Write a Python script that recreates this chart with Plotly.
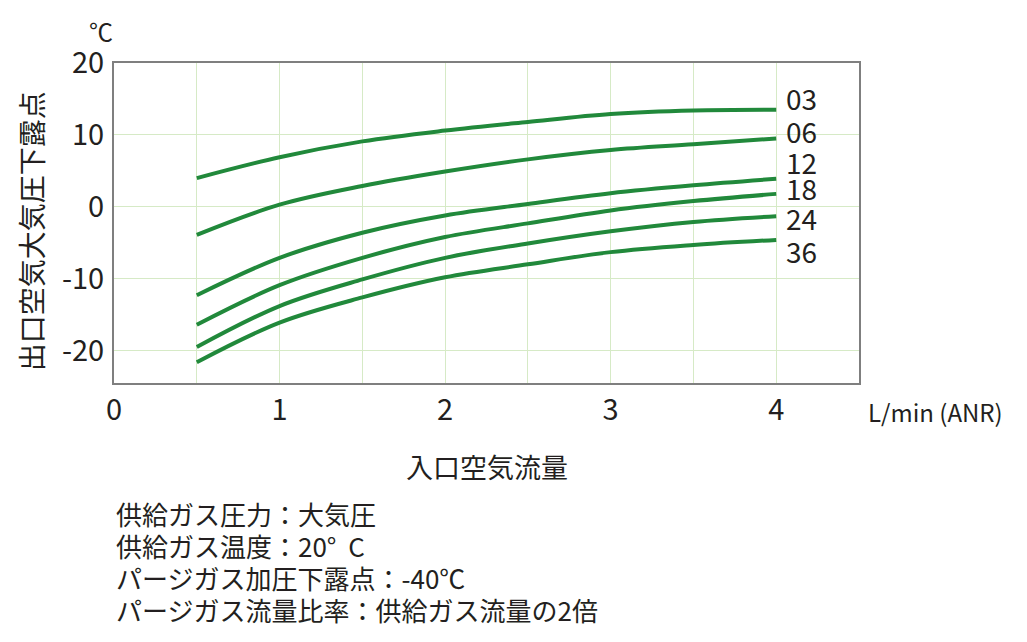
import plotly.graph_objects as go

# inlet air flow (L/min ANR)
flow = [0.5, 1.0, 1.5, 2.0, 2.5, 3.0, 3.5, 4.0]

# outlet atmospheric dew point (deg C) per model
dew_03 = [4.0, 6.9, 9.1, 10.6, 11.8, 12.9, 13.4, 13.5]
dew_06 = [-3.9, 0.3, 2.9, 4.9, 6.6, 7.9, 8.7, 9.5]
dew_12 = [-12.3, -7.1, -3.6, -1.2, 0.4, 1.9, 3.0, 3.9]
dew_18 = [-16.4, -10.9, -7.1, -4.2, -2.3, -0.5, 0.8, 1.8]
dew_24 = [-19.5, -13.8, -10.1, -7.1, -5.1, -3.4, -2.1, -1.3]
dew_36 = [-21.6, -16.1, -12.6, -9.8, -8.0, -6.3, -5.3, -4.6]

models = ["03", "06", "12", "18", "24", "36"]
series = [dew_03, dew_06, dew_12, dew_18, dew_24, dew_36]
label_y = [15.2, 10.6, 6.3, 2.6, -1.6, -6.1]  # where the model labels sit

x_ticks = [0, 1, 2, 3, 4]
y_ticks = [-20, -10, 0, 10, 20]
y_ticktext = ["-20", "-10", "0", "10", "20"]

notes = [
    "供給ガス圧力：大気圧",
    "供給ガス温度：20°  C",
    "パージガス加圧下露点：-40℃",
    "パージガス流量比率：供給ガス流量の2倍",
]

green = "#21893b"
grid = "#d6eac6"
txt = "#231f20"
jp = "Noto Sans CJK JP"

fig = go.Figure()
for name, vals in zip(models, series):
    fig.add_trace(go.Scatter(x=flow, y=vals, mode="lines", name=name,
                             line=dict(color=green, width=4, shape="spline", smoothing=1)))

for name, ly in zip(models, label_y):
    fig.add_annotation(x=4, y=ly, text=name, showarrow=False, xanchor="left", yanchor="middle", xshift=8,
                       font=dict(size=28, color=txt, family=jp))

fig.add_annotation(text="入口空気流量", x=0.5, y=-0.26, xref="paper", yref="paper", showarrow=False,
                   xanchor="center", yanchor="middle", font=dict(size=27, color=txt, family=jp))
fig.add_annotation(text="出口空気大気圧下露点", x=-0.111, y=0.475, xref="paper", yref="paper", showarrow=False,
                   xanchor="center", yanchor="middle", textangle=-90, font=dict(size=28, color=txt, family=jp))
fig.add_annotation(text="℃", x=-0.017, y=1.1, xref="paper", yref="paper", showarrow=False,
                   xanchor="center", yanchor="middle", font=dict(size=24, color=txt, family=jp))
fig.add_annotation(text="L/min (ANR)", x=1.009, y=-0.0875, xref="paper", yref="paper", showarrow=False,
                   xanchor="left", yanchor="middle", font=dict(size=24, color=txt, family=jp))

for i, line in enumerate(notes):
    fig.add_annotation(text=line, x=0, y=-0.408 - i * 0.1, xref="paper", yref="paper", showarrow=False,
                       xanchor="left", yanchor="middle", font=dict(size=26, color=txt, family=jp))

fig.update_layout(
    width=1027, height=642,
    margin=dict(l=106, r=176, t=55, b=267),
    paper_bgcolor="white", plot_bgcolor="white",
    showlegend=False,
    font=dict(family=jp, color=txt),
)
fig.update_xaxes(range=[0, 4.5], tickvals=x_ticks, showgrid=True, gridcolor=grid, gridwidth=1,
                 minor=dict(dtick=0.5, tick0=0, showgrid=True, gridcolor=grid, gridwidth=1),
                 showline=True, linecolor="#7f7f7f", linewidth=2, mirror=True, zeroline=False,
                 tickfont=dict(size=29, color=txt, family=jp), ticks="", ticklabelstandoff=0)
fig.update_yaxes(range=[-24.5, 20], tickvals=y_ticks, ticktext=y_ticktext, showgrid=True, gridcolor=grid,
                 gridwidth=1, showline=True, linecolor="#7f7f7f", linewidth=2, mirror=True, zeroline=False,
                 tickfont=dict(size=29, color=txt, family=jp), ticks="", ticklabelstandoff=2)

fig.write_html("out.html")
